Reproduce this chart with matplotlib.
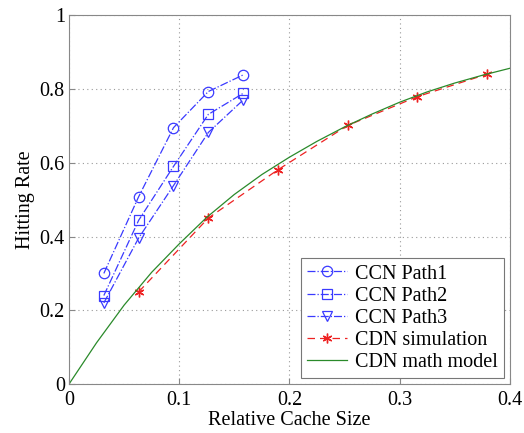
import numpy as np
import matplotlib.pyplot as plt

plt.rcParams['font.family'] = ['Liberation Serif', 'DejaVu Serif']

# CCN paths (relative cache size vs hitting rate)
ccn_x = [0.0316, 0.0632, 0.0948, 0.1264, 0.158]
ccn_path1 = [0.30, 0.508, 0.695, 0.793, 0.838]
ccn_path2 = [0.24, 0.444, 0.590, 0.731, 0.788]
ccn_path3 = [0.22, 0.396, 0.538, 0.682, 0.770]

# CDN simulation
cdn_x = [0.0632, 0.1264, 0.1896, 0.2528, 0.316, 0.3792]
cdn_sim = [0.25, 0.45, 0.581, 0.701, 0.779, 0.840]

# CDN math model
model_x = [0, 0.025, 0.05, 0.075, 0.1, 0.125, 0.15, 0.175, 0.2, 0.225,
           0.25, 0.275, 0.3, 0.325, 0.35, 0.375, 0.4]
model_y = [0, 0.112, 0.214, 0.303, 0.380, 0.452, 0.514, 0.568, 0.615, 0.658,
           0.697, 0.732, 0.764, 0.792, 0.816, 0.837, 0.856]

fig = plt.figure(figsize=(5.24, 4.33), dpi=100)
ax = fig.add_axes([0.1317, 0.113, 0.8413, 0.852])

blue = '#3a3aff'
red = '#ee2222'
ax.plot(ccn_x, ccn_path1, '-.', color=blue, lw=0.9, marker='o', ms=7.5,
        mfc='none', mec=blue, mew=0.9, label='CCN Path1')
ax.plot(ccn_x, ccn_path2, '-.', color=blue, lw=0.9, marker='s', ms=6.5,
        mfc='none', mec=blue, mew=0.9, label='CCN Path2')
ax.plot(ccn_x, ccn_path3, '-.', color=blue, lw=0.9, marker='v', ms=7.5,
        mfc='none', mec=blue, mew=0.9, label='CCN Path3')
ax.plot(cdn_x, cdn_sim, '--', color=red, lw=0.9, marker=(6, 2, 0), ms=7,
        mfc=red, mec=red, mew=1.0, dashes=(6, 4), label='CDN simulation')
ax.plot(model_x, model_y, '-', color='#2a8a2a', lw=0.9, label='CDN math model')

ax.set_xlim(0, 0.4)
ax.set_ylim(0, 1)
ax.set_xticks([0, 0.1, 0.2, 0.3, 0.4])
ax.set_yticks([0, 0.2, 0.4, 0.6, 0.8, 1])
ax.set_xticklabels(['0', '0.1', '0.2', '0.3', '0.4'])
ax.set_yticklabels(['0', '0.2', '0.4', '0.6', '0.8', '1'])
ax.tick_params(labelsize=14.5, direction='in', length=4, color='#888888')
ax.tick_params(axis='x', pad=5)
ax.tick_params(axis='y', pad=3)
ax.grid(True, linestyle=(0, (1, 3)), color='#999999', lw=0.8)
for s in ax.spines.values():
    s.set_color('#888888')

ax.set_xlabel('Relative Cache Size', fontsize=14.5, labelpad=1)
ax.set_ylabel('Hitting Rate', fontsize=14.5, labelpad=3)

leg = ax.legend(loc='lower right', fontsize=14.5, fancybox=False, framealpha=1,
                edgecolor='#777777', handlelength=2.0, borderpad=0.3,
                labelspacing=0.15, handletextpad=0.4, borderaxespad=0.3)
leg.get_frame().set_linewidth(0.8)

fig.savefig('out.png', dpi=100)
